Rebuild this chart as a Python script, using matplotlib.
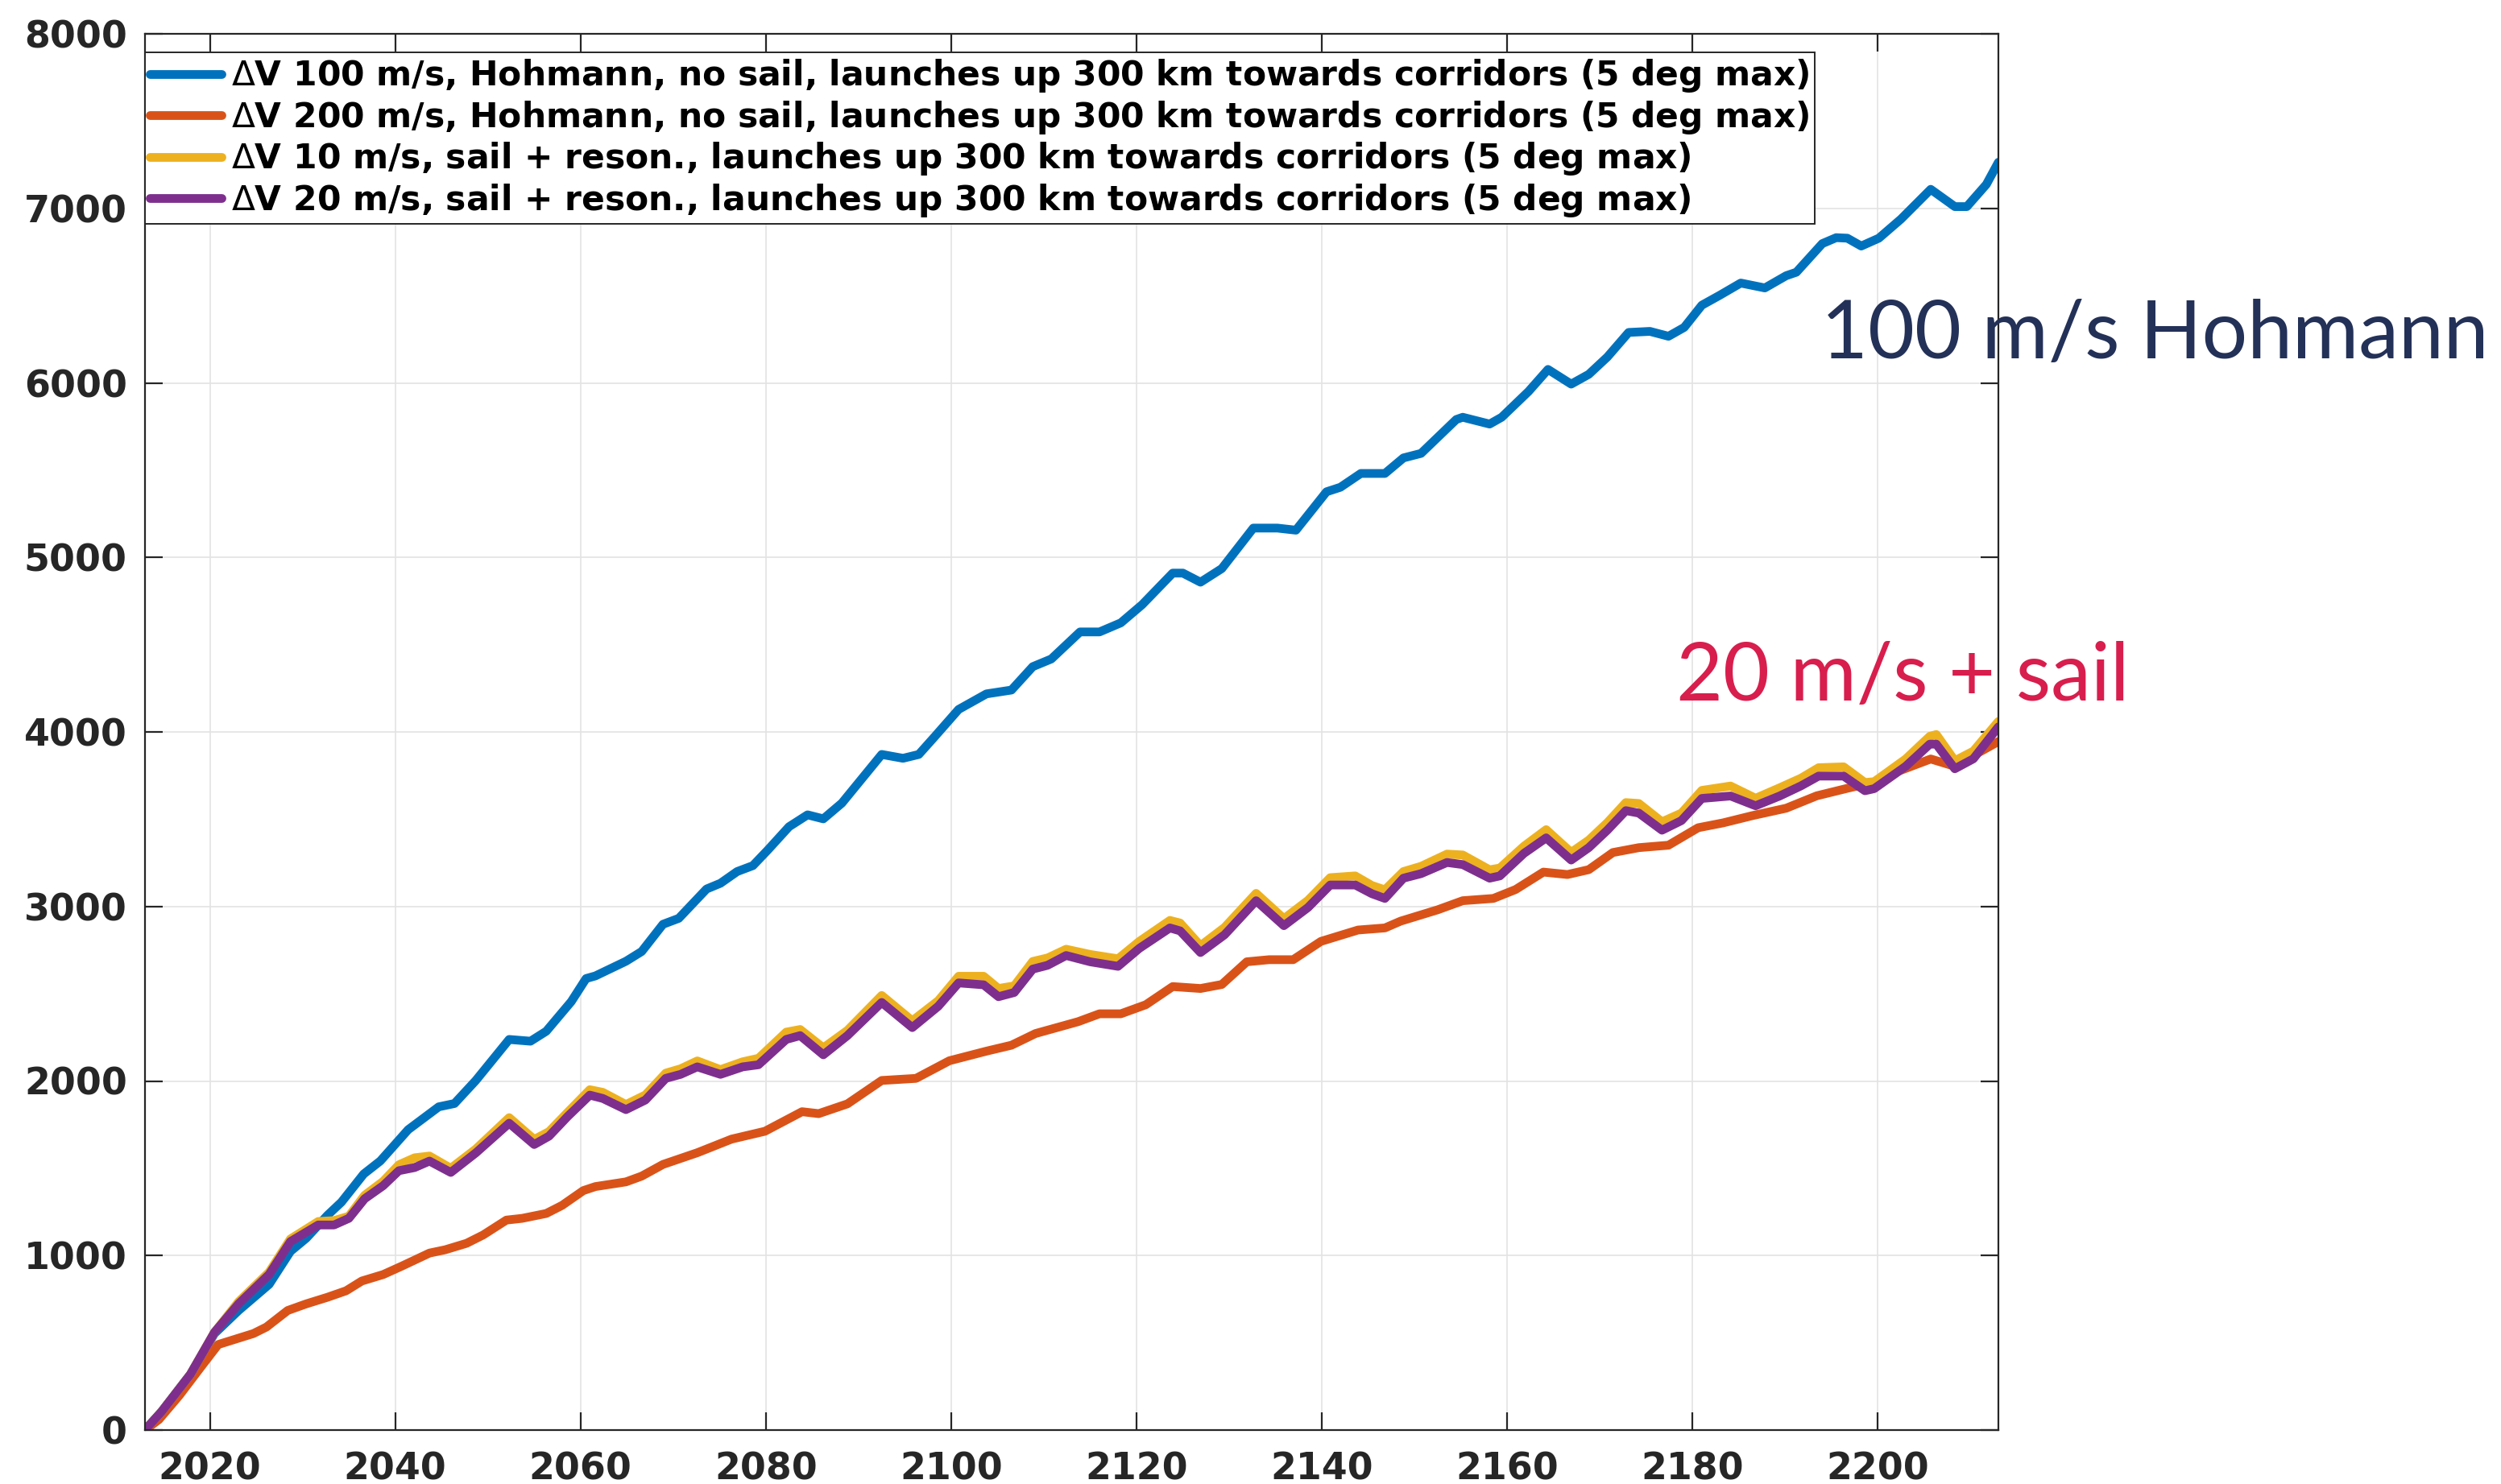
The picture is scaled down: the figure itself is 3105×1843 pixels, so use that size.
import matplotlib
matplotlib.use("Agg")
import matplotlib.pyplot as plt

# ---- data (cumulative delta-V vs launch year) ----
hoh100_year = [2013.0, 2014.8, 2017.9, 2020.5, 2023.1, 2026.4, 2028.7, 2030.4, 2032.7, 2034.2,
               2036.6, 2038.4, 2041.4, 2044.7, 2046.4, 2048.7, 2052.3, 2054.6, 2056.3, 2059.0,
               2060.6, 2061.6, 2064.9, 2066.6, 2068.9, 2070.6, 2073.6, 2075.1, 2076.9, 2078.6,
               2080.2, 2082.5, 2084.5, 2086.2, 2088.2, 2092.5, 2094.8, 2096.5, 2098.2, 2100.8,
               2103.8, 2106.5, 2108.8, 2110.8, 2113.9, 2116.0, 2118.3, 2120.6, 2123.9, 2125.0,
               2126.9, 2129.2, 2132.6, 2135.2, 2137.2, 2140.5, 2142.0, 2144.2, 2146.8, 2148.8,
               2150.7, 2154.5, 2155.2, 2158.1, 2159.4, 2162.3, 2164.4, 2166.9, 2168.8, 2170.8,
               2173.1, 2175.4, 2177.4, 2179.1, 2181.0, 2182.9, 2185.2, 2187.8, 2190.1, 2191.2,
               2194.0, 2195.5, 2196.7, 2198.2, 2200.1, 2202.5, 2205.7, 2208.3, 2209.6, 2211.7,
               2213.0]
hoh100_dv = [0, 106, 319, 553, 685, 835, 1024, 1099, 1231, 1306,
             1467, 1542, 1721, 1852, 1871, 2003, 2238, 2228, 2285, 2455,
             2587, 2602, 2686, 2742, 2898, 2932, 3100, 3133, 3200, 3234,
             3323, 3457, 3525, 3502, 3592, 3871, 3849, 3871, 3972, 4129,
             4218, 4240, 4374, 4418, 4573, 4573, 4625, 4729, 4910, 4910,
             4858, 4936, 5168, 5168, 5156, 5376, 5402, 5481, 5481, 5570,
             5596, 5790, 5803, 5764, 5803, 5951, 6077, 5993, 6049, 6148,
             6289, 6295, 6267, 6318, 6445, 6501, 6572, 6544, 6614, 6634,
             6798, 6832, 6829, 6784, 6829, 6939, 7109, 7010, 7010, 7137,
             7264]

hoh200_year = [2013.0, 2014.5, 2016.7, 2019.1, 2020.9, 2024.7, 2026.1, 2028.4, 2030.4, 2032.7,
               2034.7, 2036.4, 2038.7, 2040.7, 2043.7, 2045.4, 2047.7, 2049.5, 2052.0, 2053.7,
               2056.3, 2058.0, 2060.3, 2061.6, 2064.9, 2066.6, 2068.9, 2072.6, 2076.3, 2079.9,
               2083.9, 2085.7, 2088.8, 2092.5, 2096.2, 2099.8, 2103.8, 2106.5, 2109.1, 2111.4,
               2113.7, 2116.0, 2118.3, 2121.0, 2123.9, 2126.9, 2129.2, 2131.9, 2134.3, 2136.9,
               2139.9, 2143.9, 2146.8, 2148.5, 2152.5, 2155.2, 2158.5, 2160.9, 2163.9, 2166.5,
               2168.8, 2171.4, 2174.2, 2177.4, 2180.6, 2183.3, 2186.5, 2190.1, 2193.4, 2196.7,
               2200.1, 2202.2, 2205.7, 2208.3, 2210.6, 2213.0]
hoh200_dv = [0, 60, 198, 366, 490, 553, 590, 685, 723, 761,
             798, 854, 891, 939, 1014, 1033, 1070, 1118, 1203, 1213,
             1241, 1287, 1372, 1395, 1422, 1455, 1522, 1589, 1667, 1712,
             1824, 1813, 1869, 2003, 2015, 2116, 2171, 2205, 2272, 2306,
             2340, 2385, 2385, 2437, 2541, 2530, 2553, 2683, 2695, 2695,
             2800, 2865, 2877, 2916, 2981, 3033, 3046, 3097, 3197, 3183,
             3211, 3309, 3337, 3351, 3451, 3479, 3521, 3563, 3634, 3677,
             3719, 3775, 3845, 3803, 3874, 3945]

sail_year = [2013.0, 2014.8, 2017.9, 2020.5, 2023.1, 2026.4, 2028.7, 2031.7, 2033.4, 2035.0,
             2036.7, 2038.7, 2040.4, 2042.1, 2043.7, 2046.0, 2048.7, 2052.3, 2055.0, 2056.6,
             2058.6, 2061.0, 2062.4, 2064.9, 2067.0, 2069.2, 2070.8, 2072.6, 2075.1, 2077.5,
             2079.2, 2082.2, 2083.7, 2086.2, 2088.8, 2092.5, 2095.8, 2098.6, 2100.8, 2103.5,
             2105.1, 2106.8, 2108.8, 2110.4, 2112.4, 2115.0, 2118.0, 2120.3, 2123.6, 2124.7,
             2126.9, 2129.5, 2132.9, 2135.9, 2138.5, 2140.9, 2143.6, 2145.4, 2146.8, 2148.8,
             2150.7, 2153.5, 2155.2, 2158.1, 2159.2, 2161.8, 2164.2, 2166.9, 2168.8, 2170.8,
             2172.8, 2174.2, 2176.7, 2178.8, 2181.0, 2184.1, 2186.8, 2189.4, 2191.7, 2193.6,
             2196.3, 2198.6, 2199.6, 2203.0, 2205.6, 2206.3, 2208.3, 2210.3, 2213.0]
sail10_dv = [0, 106, 319, 560, 735, 905, 1095, 1195, 1200, 1225,
             1345, 1425, 1520, 1560, 1570, 1500, 1610, 1790, 1665, 1710,
             1820, 1950, 1935, 1865, 1920, 2045, 2070, 2115, 2065, 2110,
             2130, 2280, 2295, 2190, 2290, 2490, 2345, 2460, 2600, 2600,
             2530, 2545, 2685, 2705, 2755, 2725, 2700, 2800, 2920, 2905,
             2775, 2880, 3075, 2930, 3035, 3165, 3175, 3120, 3095, 3200,
             3230, 3300, 3295, 3210, 3220, 3345, 3440, 3310, 3380, 3480,
             3595, 3590, 3485, 3535, 3665, 3690, 3620, 3680, 3735, 3795,
             3800, 3710, 3715, 3845, 3975, 3985, 3835, 3890, 4060]
sail20_dv = [0, 106, 319, 560, 723, 892, 1080, 1175, 1175, 1213,
             1325, 1400, 1486, 1504, 1541, 1476, 1588, 1758, 1636, 1684,
             1796, 1919, 1900, 1836, 1891, 2015, 2038, 2081, 2038, 2081,
             2093, 2238, 2260, 2150, 2260, 2450, 2306, 2428, 2562, 2551,
             2483, 2507, 2641, 2663, 2719, 2683, 2657, 2760, 2877, 2860,
             2736, 2838, 3033, 2890, 2994, 3123, 3123, 3073, 3046, 3162,
             3188, 3252, 3240, 3162, 3175, 3304, 3393, 3266, 3337, 3437,
             3549, 3535, 3437, 3492, 3619, 3633, 3577, 3633, 3691, 3747,
             3747, 3663, 3675, 3803, 3930, 3930, 3789, 3846, 4029]

labels = [
    r"$\Delta$V 100 m/s, Hohmann, no sail, launches up 300 km towards corridors (5 deg max)",
    r"$\Delta$V 200 m/s, Hohmann, no sail, launches up 300 km towards corridors (5 deg max)",
    r"$\Delta$V 10 m/s, sail + reson., launches up 300 km towards corridors (5 deg max)",
    r"$\Delta$V 20 m/s, sail + reson., launches up 300 km towards corridors (5 deg max)",
]
colors = ["#0072BD", "#D95319", "#EDB120", "#7E2F8E"]

x_ticks = list(range(2020, 2201, 20))
y_ticks = list(range(0, 8001, 1000))

# ---- figure ----
fig = plt.figure(figsize=(31.05, 18.43), dpi=100)
ax = fig.add_axes([180 / 3105, 67 / 1843, (2481 - 180) / 3105, (1776 - 42) / 1843])

lw = 7.8
series = [(hoh100_year, hoh100_dv), (hoh200_year, hoh200_dv),
          (sail_year, sail10_dv), (sail_year, sail20_dv)]
for (xs, ys), c, lab in zip(series, colors, labels):
    ax.plot(xs, ys, color=c, lw=lw, label=lab, solid_joinstyle="round",
            solid_capstyle="round")

ax.set_xlim(2013, 2213)
ax.set_ylim(0, 8000)
ax.set_xticks(x_ticks)
ax.set_yticks(y_ticks)

ax.set_axisbelow(True)
ax.grid(True, color="#e3e3e3", lw=1.2)
ax.tick_params(direction="in", length=16, width=1.6, color="#262626",
               top=True, right=True, labelsize=33, labelcolor="#262626")
ax.tick_params(axis="x", pad=19)
ax.tick_params(axis="y", pad=16)
for lbl in ax.get_xticklabels() + ax.get_yticklabels():
    lbl.set_fontweight("bold")
for sp in ax.spines.values():
    sp.set_color("#262626")
    sp.set_linewidth(1.6)

leg = ax.legend(loc="upper left", bbox_to_anchor=(0, 1 - 23 / 1734),
                borderaxespad=0, prop={"weight": "bold", "size": 30.5},
                handlelength=2.1, handletextpad=0.27, labelspacing=0.13,
                borderpad=0.15, fancybox=False, framealpha=1)
leg.get_frame().set_edgecolor("#262626")
leg.get_frame().set_linewidth(1.4)

# ---- annotations ----
fig.text(2261 / 3105, (1843 - 445) / 1843, "100 m/s Hohmann", family="Lato",
         fontsize=72, color="#233158", va="baseline", ha="left")
fig.text(2081 / 3105, (1843 - 870) / 1843, "20 m/s + sail", family="Lato",
         fontsize=72, color="#D81E4D", va="baseline", ha="left")

fig.savefig("out.png", dpi=100)
